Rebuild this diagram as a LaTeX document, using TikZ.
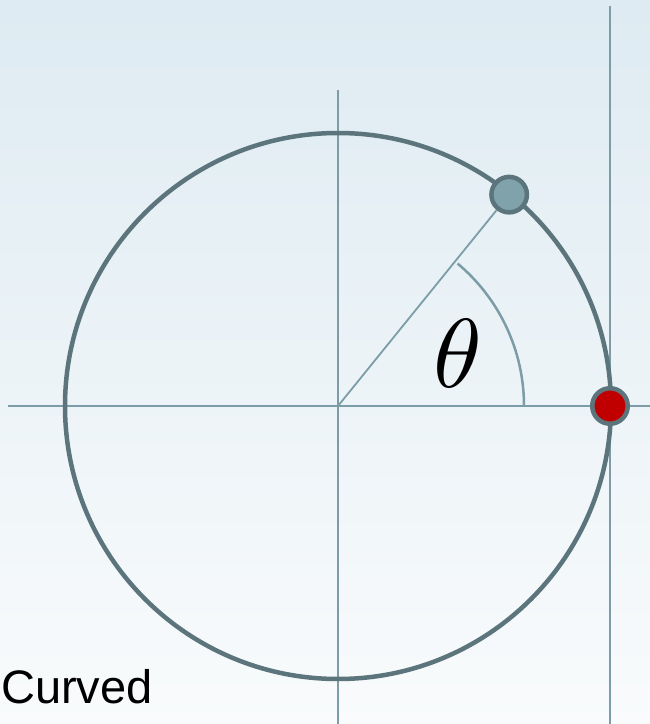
\documentclass[tikz,border=0pt]{standalone}
\usepackage{fontspec}
\newfontfamily\labelfont{Liberation Sans}
\usetikzlibrary{positioning}
\definecolor{rimgray}{RGB}{92,117,125}
\definecolor{axisblue}{RGB}{124,157,167}
\definecolor{pointblue}{RGB}{128,162,171}
\definecolor{pointred}{RGB}{192,0,0}
\definecolor{bgtop}{RGB}{222,235,242}
\definecolor{bgbottom}{RGB}{249,251,252}

\begin{document}
\begin{tikzpicture}[x=1pt,y=1pt,
    axis/.style={axisblue,line width=2.2pt},
    rim/.style={rimgray,line width=4.5pt},
    dot/.style={circle,draw=rimgray,line width=4.5pt,minimum size=35.5pt,inner sep=0pt}]
        \shade[top color=bgtop,bottom color=bgbottom] (-338,-318) rectangle (312,406);
        \useasboundingbox (-338,-318) rectangle (312,406);
        \coordinate (origin) at (0,0);
        % axes and the tangent line
        \draw[axis] (-330,0) -- (312,0);
        \draw[axis] (0,-318) -- (0,316);
        \draw[axis,line width=2.5pt] (272,-318) -- (272,400);
        \draw[rim] (origin) circle (273);
        % angle
        \node[dot,fill=pointblue] (tip) at (51:272) {};
        \node[dot,fill=pointred] (start) at (272,0) {};
        \draw[axis,line width=1.8pt] (origin) -- (tip);
        \draw[axis,line width=2.5pt] (186,0) arc[start angle=0,end angle=50,radius=186];
        \node[scale=9.8] (angle) at (120,53) {$\theta$};
        \node[font=\labelfont\fontsize{47}{47}\selectfont,anchor=base west,inner sep=0pt] (caption) at (-337,-297) {Curved};
    \end{tikzpicture}
\end{document}
